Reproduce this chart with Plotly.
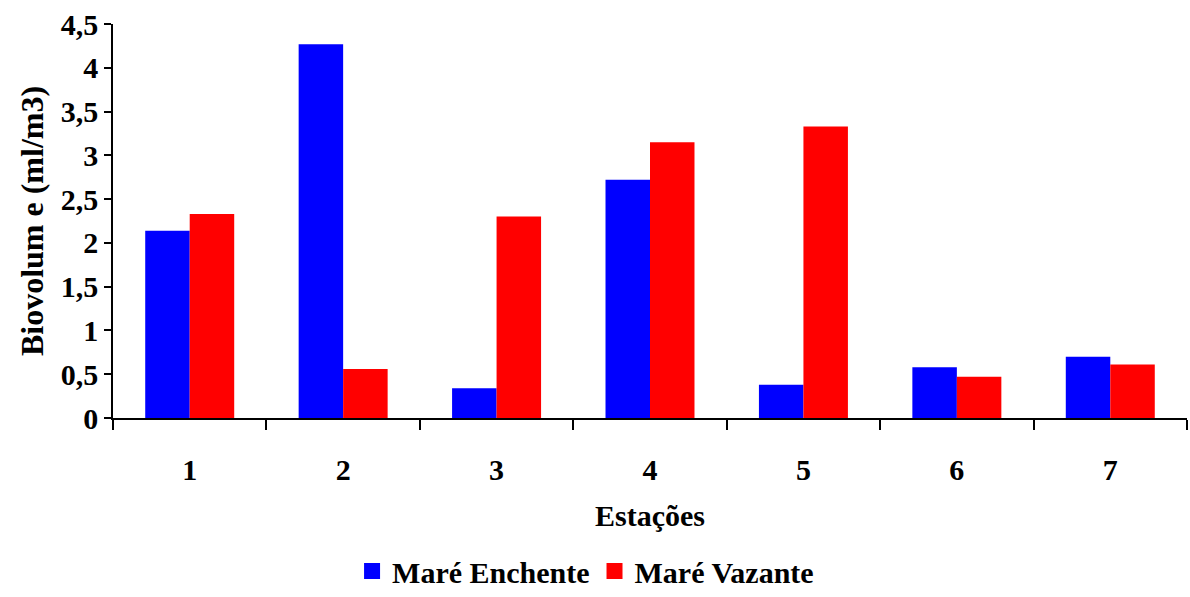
import plotly.graph_objects as go

estacoes = ["1", "2", "3", "4", "5", "6", "7"]
enchente = [2.14, 4.27, 0.34, 2.72, 0.38, 0.58, 0.70]
vazante = [2.33, 0.56, 2.30, 3.15, 3.33, 0.47, 0.61]

series_names = ["Maré Enchente", "Maré Vazante"]
series_colors = ["#0000FF", "#FF0000"]

font_family = "Liberation Serif"

fig = go.Figure()
for name, vals, col in zip(series_names, [enchente, vazante], series_colors):
    fig.add_trace(go.Bar(x=estacoes, y=vals, name=name, showlegend=False,
                         marker=dict(color=col, line=dict(width=0))))
# larger square swatches for the legend
for name, col in zip(series_names, series_colors):
    fig.add_trace(go.Scatter(x=[None], y=[None], mode="markers", name=name,
                             marker=dict(symbol="square", size=16, color=col)))

fig.update_layout(
    width=1190, height=597,
    margin=dict(l=113, r=3, t=24, b=179, autoexpand=False),
    paper_bgcolor="white", plot_bgcolor="white",
    barmode="group", bargap=0.42, bargroupgap=0,
    separators=",.",
    font=dict(family=font_family, size=30, color="black"),
    showlegend=True,
    legend=dict(orientation="h", x=0.44, xanchor="center",
                yref="container", y=-0.018, yanchor="bottom",
                font=dict(family=font_family, size=30, color="black", weight="bold"),
                itemwidth=30, traceorder="normal", tracegroupgap=0),
    xaxis=dict(
        type="category", tickson="boundaries", automargin=False,
        showline=True, linecolor="black", linewidth=1.5,
        ticks="outside", ticklen=10, tickwidth=1.5, tickcolor="black",
        ticklabelstandoff=24,
        tickfont=dict(family=font_family, size=30, weight="bold"),
        title=dict(text="Estações", standoff=20,
                   font=dict(family=font_family, size=30, weight="bold")),
        showgrid=False,
    ),
    yaxis=dict(
        range=[0, 4.5], dtick=0.5, tick0=0, automargin=False,
        showline=True, linecolor="black", linewidth=1.5,
        ticks="outside", ticklen=7, tickwidth=1.5, tickcolor="black",
        tickfont=dict(family=font_family, size=30, weight="bold"),
        title=dict(text="Biovolum e (ml/m3)", standoff=8,
                   font=dict(family=font_family, size=32, weight="bold")),
        showgrid=False, zeroline=False,
    ),
)

fig.write_html("out.html")
